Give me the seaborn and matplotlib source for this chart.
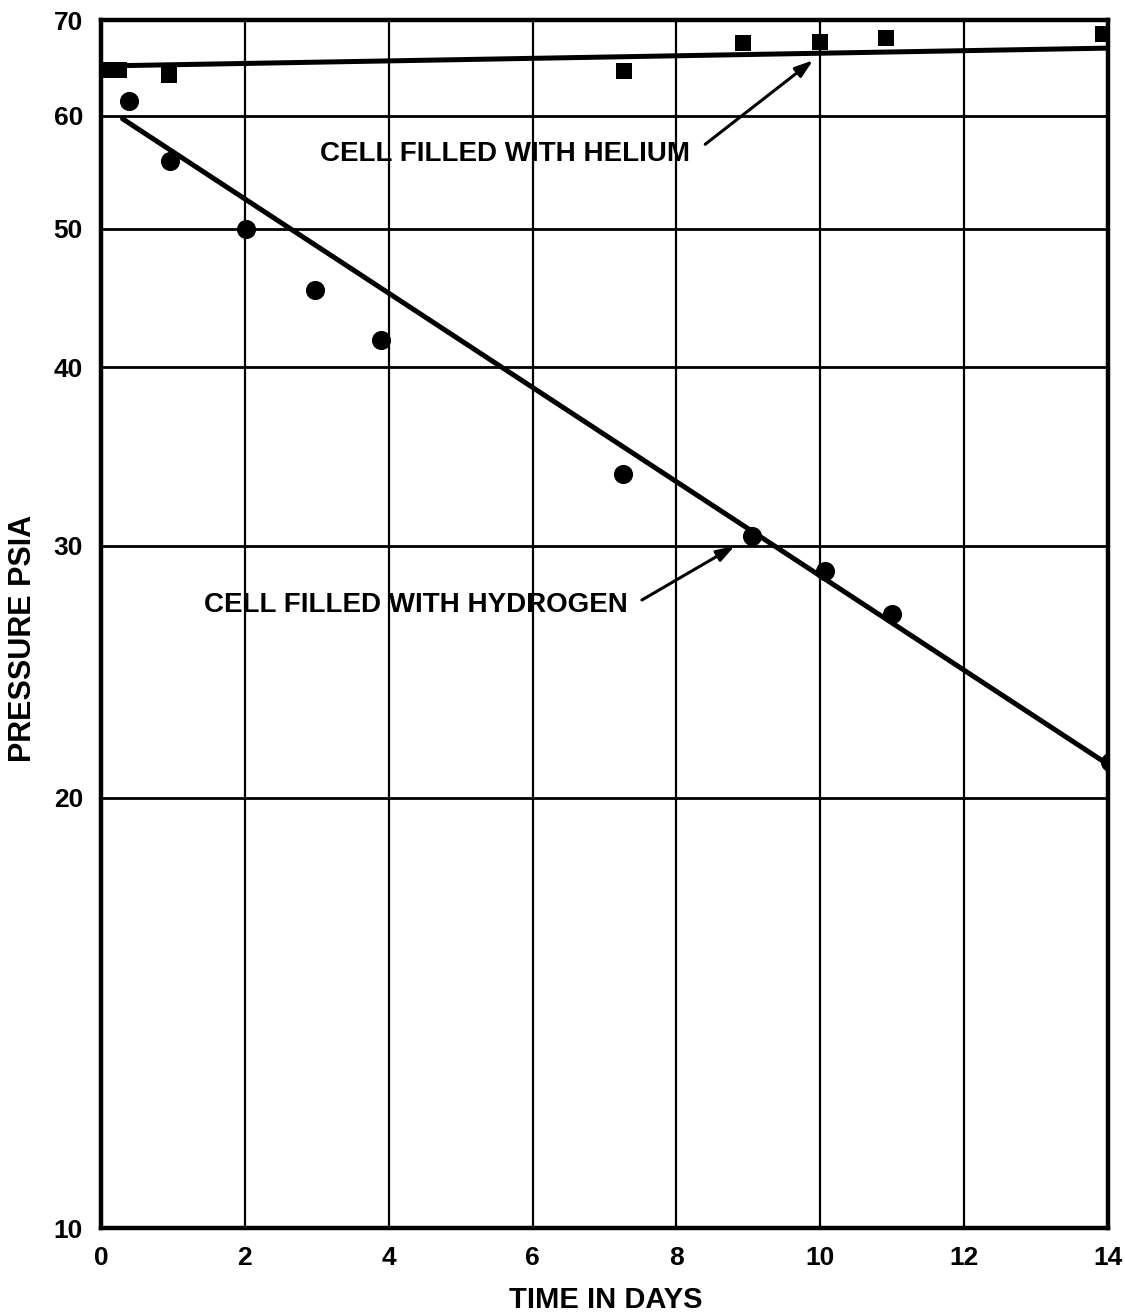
import matplotlib
matplotlib.use("Agg")
import matplotlib.pyplot as plt
import seaborn as sns
import pandas as pd
from matplotlib.ticker import FixedLocator, NullLocator, FixedFormatter

# Hydrogen-filled cell: measured pressure (psia) vs time (days)
h2_days = [0.39, 0.96, 2.02, 2.98, 3.89, 7.26, 9.05, 10.07, 11.0, 14.03]
h2_psia = [61.4, 55.8, 50.0, 45.3, 41.8, 33.7, 30.5, 28.8, 26.9, 21.2]

# Helium-filled cell: measured pressure (psia) vs time (days)
he_days = [0.05, 0.25, 0.95, 7.27, 8.93, 10.0, 10.91, 13.93]
he_psia = [64.6, 64.6, 64.1, 64.5, 67.4, 67.6, 68.0, 68.4]

# Fitted trend lines (end points)
h2_fit_days = [0.30, 14.0]
h2_fit_psia = [59.7, 21.1]
he_fit_days = [0.0, 14.0]
he_fit_psia = [65.0, 66.9]

x_ticks = [0, 2, 4, 6, 8, 10, 12, 14]
y_ticks = [10, 20, 30, 40, 50, 60, 70]

sns.set_theme(style="white")
plt.rcParams["font.family"] = ["Liberation Sans", "DejaVu Sans"]
plt.rcParams["font.weight"] = "bold"

fig = plt.figure(figsize=(11.25, 13.15), dpi=100)
ax = fig.add_axes([101 / 1125, 87 / 1315, 1007 / 1125, 1208 / 1315])

h2 = pd.DataFrame({"days": h2_days, "psia": h2_psia})
he = pd.DataFrame({"days": he_days, "psia": he_psia})
h2_fit = pd.DataFrame({"days": h2_fit_days, "psia": h2_fit_psia})
he_fit = pd.DataFrame({"days": he_fit_days, "psia": he_fit_psia})

ax.set_yscale("log")
ax.set_xlim(0, 14)
ax.set_ylim(10, 70)

# grid
for xv in x_ticks:
    ax.axvline(xv, color="black", lw=1.6, zorder=1)
for yv in y_ticks:
    ax.axhline(yv, color="black", lw=2.0, zorder=1)

sns.lineplot(data=h2_fit, x="days", y="psia", ax=ax, color="black", lw=3.6, zorder=3)
sns.lineplot(data=he_fit, x="days", y="psia", ax=ax, color="black", lw=3.6, zorder=3)
sns.scatterplot(data=h2, x="days", y="psia", ax=ax, marker="o", s=190,
                color="black", edgecolor="black", linewidth=0, zorder=4)
sns.scatterplot(data=he, x="days", y="psia", ax=ax, marker="s", s=135,
                color="black", edgecolor="black", linewidth=0, zorder=4)

ax.xaxis.set_major_locator(FixedLocator(x_ticks))
ax.yaxis.set_major_locator(FixedLocator(y_ticks))
ax.yaxis.set_minor_locator(NullLocator())
ax.yaxis.set_major_formatter(FixedFormatter([str(v) for v in y_ticks]))
ax.set_xticklabels([str(v) for v in x_ticks])
ax.tick_params(axis="both", length=0, labelsize=19, colors="black")
ax.tick_params(axis="y", pad=13)
ax.tick_params(axis="x", pad=13)
for lbl in ax.get_xticklabels() + ax.get_yticklabels():
    lbl.set_fontweight("bold")

for side in ["left", "bottom", "top", "right"]:
    ax.spines[side].set_visible(True)
    ax.spines[side].set_color("black")
    ax.spines[side].set_linewidth(3.2)
    ax.spines[side].set_zorder(5)

ax.set_xlabel("TIME IN DAYS", fontsize=21, color="black", fontweight="bold")
ax.set_ylabel("PRESSURE PSIA", fontsize=22, color="black", fontweight="bold")
ax.xaxis.set_label_coords(0.501, -0.0596)
ax.yaxis.set_label_coords(-0.0775, 0.488)
ax.xaxis.label.set_va("center")
ax.yaxis.label.set_va("center")

# annotations with arrows
ax.text(5.62, 56.4, "CELL FILLED WITH HELIUM", fontsize=20, ha="center",
        va="center", color="black", fontweight="bold", zorder=6)
ax.annotate("", xy=(9.90, 65.6), xytext=(8.40, 57.3),
            arrowprops=dict(arrowstyle="-|>,head_length=0.9,head_width=0.3",
                            color="black", lw=2.2, shrinkA=0, shrinkB=0), zorder=6)

ax.text(4.38, 27.3, "CELL FILLED WITH HYDROGEN", fontsize=20, ha="center",
        va="center", color="black", fontweight="bold", zorder=6)
ax.annotate("", xy=(8.81, 30.0), xytext=(7.52, 27.5),
            arrowprops=dict(arrowstyle="-|>,head_length=0.9,head_width=0.3",
                            color="black", lw=2.2, shrinkA=0, shrinkB=0), zorder=6)

fig.savefig("out.png", dpi=100, facecolor="white")
